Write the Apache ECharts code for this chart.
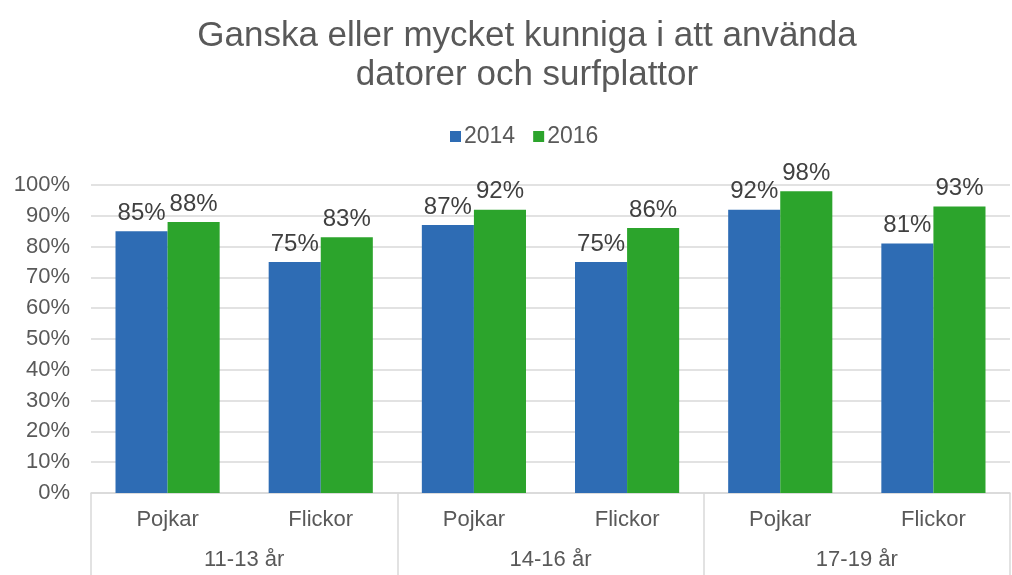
<!DOCTYPE html>
<html>
<head>
<meta charset="utf-8">
<script src="https://cdn.jsdelivr.net/npm/echarts@6/dist/echarts.min.js"></script>
<style>
html,body{margin:0;padding:0;background:#fff;}
#chart{width:1012px;height:575px;}
</style>
</head>
<body>
<div id="chart"></div>
<script>
var kon = ["Pojkar","Flickor","Pojkar","Flickor","Pojkar","Flickor"];
var aldrar = ["11-13 år","14-16 år","17-19 år"];
var v2014 = [85,75,87,75,92,81];
var v2016 = [88,83,92,86,98,93];

var font = "'Liberation Sans', Arial, sans-serif";
var grey = "#595959";

var chart = echarts.init(document.getElementById('chart'));
var option = {
    animation:false,
    textStyle:{fontFamily:font},
    title:{
        text:"Ganska eller mycket kunniga i att använda\ndatorer och surfplattor",
        left:522, top:12, textAlign:'center',
        textStyle:{fontFamily:font,fontSize:35,fontWeight:'normal',color:grey,lineHeight:39}
    },
    legend:{
        top:120, left:445,
        itemWidth:11, itemHeight:11, itemGap:18,
        icon:'rect',
        textStyle:{fontFamily:font,fontSize:23,color:grey,padding:[0,0,0,-2]},
        data:['2014','2016']
    },
    grid:{left:91,right:2,top:185,bottom:82},
    xAxis:[{
        type:'category',
        data:kon,
        position:'bottom',
        axisLine:{lineStyle:{color:'#d9d9d9',width:1.5}},
        axisTick:{show:false},
        axisLabel:{fontSize:22,color:grey,margin:16,fontFamily:font}
    },{
        type:'category',
        data:aldrar,
        position:'bottom',
        axisLine:{show:false},
        axisTick:{show:true,length:82,lineStyle:{color:'#d9d9d9',width:1.5}},
        axisLabel:{fontSize:22,color:grey,margin:56,fontFamily:font}
    }],
    yAxis:{
        type:'value',
        min:0, max:100, interval:10,
        axisLine:{show:false},
        axisTick:{show:false},
        splitLine:{lineStyle:{color:'#d9d9d9',width:1.5}},
        axisLabel:{fontSize:22,color:grey,margin:21,fontFamily:font,formatter:'{value}%'}
    },
    series:[{
        name:'2014', type:'bar', data:v2014,
        barGap:'0%', barCategoryGap:'32%',
        itemStyle:{color:'#2e6cb4'},
        label:{show:true,position:'top',formatter:'{c}%',fontSize:24,color:'#404040',distance:6,fontFamily:font}
    },{
        name:'2016', type:'bar', data:v2016,
        barGap:'0%', barCategoryGap:'32%',
        itemStyle:{color:'#2ca42c'},
        label:{show:true,position:'top',formatter:'{c}%',fontSize:24,color:'#404040',distance:6,fontFamily:font}
    }]
};
chart.setOption(option);
</script>
</body>
</html>
